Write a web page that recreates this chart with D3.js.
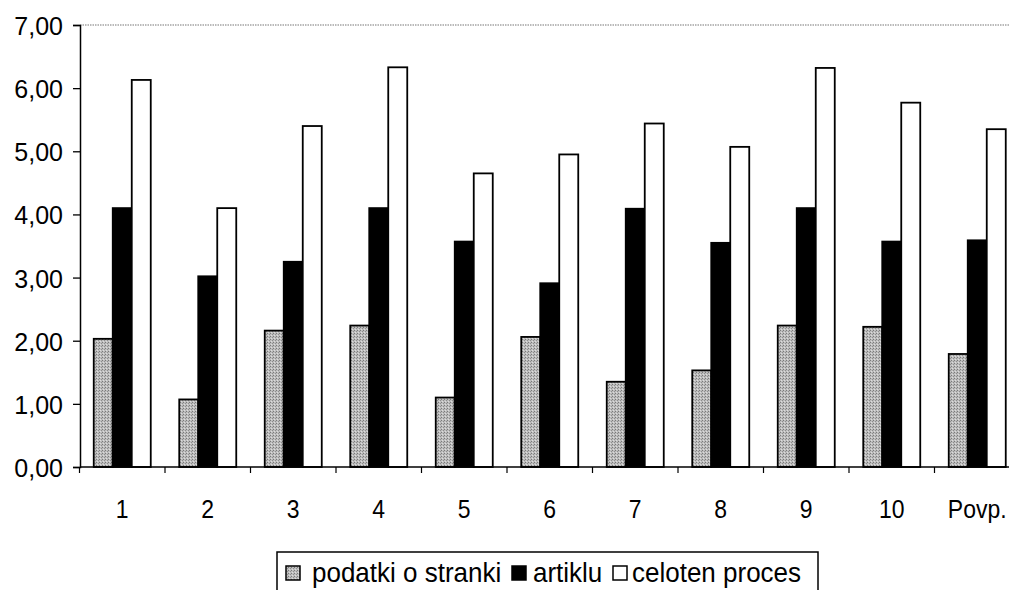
<!DOCTYPE html>
<html><head><meta charset="utf-8">
<script src="https://cdn.jsdelivr.net/npm/d3@7"></script>
<style>html,body{margin:0;padding:0;background:#fff;}svg{display:block;font-family:"Liberation Sans",Arial,Helvetica,sans-serif;}</style>
</head><body>
<svg id="c" width="1009" height="590"></svg>
<script>
const categories = ["1","2","3","4","5","6","7","8","9","10","Povp."];
const podatki = [2.03,1.07,2.16,2.24,1.10,2.06,1.35,1.53,2.24,2.22,1.79];
const artiklu = [4.10,3.02,3.25,4.10,3.57,2.91,4.09,3.55,4.10,3.57,3.59];
const celoten = [6.13,4.10,5.40,6.33,4.65,4.95,5.44,5.07,6.32,5.77,5.35];
const seriesNames = ["podatki o stranki","artiklu","celoten proces"];
const yTicks = [0,1,2,3,4,5,6,7];

const svg = d3.select("#c");
const defs = svg.append("defs");
const pat = defs.append("pattern").attr("id","dots").attr("width",3).attr("height",3).attr("patternUnits","userSpaceOnUse");
pat.append("rect").attr("width",3).attr("height",3).attr("fill","#bdbdbd");
pat.append("rect").attr("width",1).attr("height",1).attr("fill","#7a7a7a");
pat.append("rect").attr("x",2).attr("y",1).attr("width",1).attr("height",1).attr("fill","#8e8e8e");
pat.append("rect").attr("x",1).attr("y",2).attr("width",1).attr("height",1).attr("fill","#dcdcdc");

const fills = ["url(#dots)","#000","#fff"];
const data = [podatki, artiklu, celoten];

const x0 = 79.5, bw = 85.5;
const x = d3.scaleBand().domain(categories).range([x0, x0 + bw*categories.length]).padding(0);
const xi = d3.scaleBand().domain(seriesNames).range([0, bw]).paddingInner(0).paddingOuter(0.75);
const y = d3.scaleLinear().domain([0,7]).range([467,25]);

// top gridline (dotted)
svg.append("line").attr("x1",80).attr("x2",1009).attr("y1",y(7)).attr("y2",y(7))
  .attr("stroke","#777").attr("stroke-width",1.2).attr("stroke-dasharray","1.5,1");

// bars
seriesNames.forEach((s,si)=>{
  svg.append("g").selectAll("rect").data(categories).join("rect")
    .attr("x", c => x(c) + xi(s))
    .attr("y", (c,i) => y(data[si][i]))
    .attr("width", xi.bandwidth())
    .attr("height", (c,i) => y(0) - y(data[si][i]))
    .attr("fill", fills[si])
    .attr("stroke","#000").attr("stroke-width",1.8);
});

// y axis
const ya = svg.append("g").attr("transform","translate(80,0)")
  .call(d3.axisLeft(y).tickValues(yTicks).tickSize(7).tickPadding(10).tickFormat(d => d3.format(".2f")(d).replace(".",",")));
ya.select(".domain").attr("stroke","#000").attr("stroke-width",1.5);
ya.selectAll(".tick line").attr("stroke","#000").attr("stroke-width",1.3);
ya.selectAll("text").attr("font-size",25).attr("fill","#000").attr("font-family","Liberation Sans, Arial, sans-serif")
  .attr("dy","0.36em").attr("transform","scale(1,1.05)");

// x axis
const xa = svg.append("g").attr("transform","translate(0,467)")
  .call(d3.axisBottom(x).tickSize(0).tickPadding(51));
xa.select(".domain").remove();
svg.append("line").attr("x1",80).attr("x2",1009).attr("y1",467).attr("y2",467).attr("stroke","#000").attr("stroke-width",1.5);
xa.selectAll("text").attr("font-size",23).attr("fill","#000").attr("font-family","Liberation Sans, Arial, sans-serif")
  .attr("dy","0").attr("transform","translate(0,51) scale(1,1.12) translate(0,-51)");
// category boundary ticks
const bounds = categories.map(c => x(c)).concat([x(categories[categories.length-1]) + bw]);
svg.append("g").selectAll("line").data(bounds).join("line")
  .attr("x1",d=>d).attr("x2",d=>d).attr("y1",467).attr("y2",473)
  .attr("stroke","#000").attr("stroke-width",1.2);

// legend
const lg = svg.append("g");
lg.append("rect").attr("x",277).attr("y",552).attr("width",541).attr("height",60)
  .attr("fill","#fff").attr("stroke","#000").attr("stroke-width",1.5);
const legX = [286, 512, 613];
const legT = [312, 533, 632];
seriesNames.forEach((s,si)=>{
  lg.append("rect").attr("x",legX[si]).attr("y",566).attr("width",14).attr("height",14)
    .attr("fill",fills[si]).attr("stroke","#000").attr("stroke-width",1.5);
  lg.append("text").attr("x",legT[si]).attr("y",582).attr("font-size",26).attr("fill","#000")
    .attr("transform","translate(0,582) scale(1,1.08) translate(0,-582)").text(s);
});
</script>
</body></html>
